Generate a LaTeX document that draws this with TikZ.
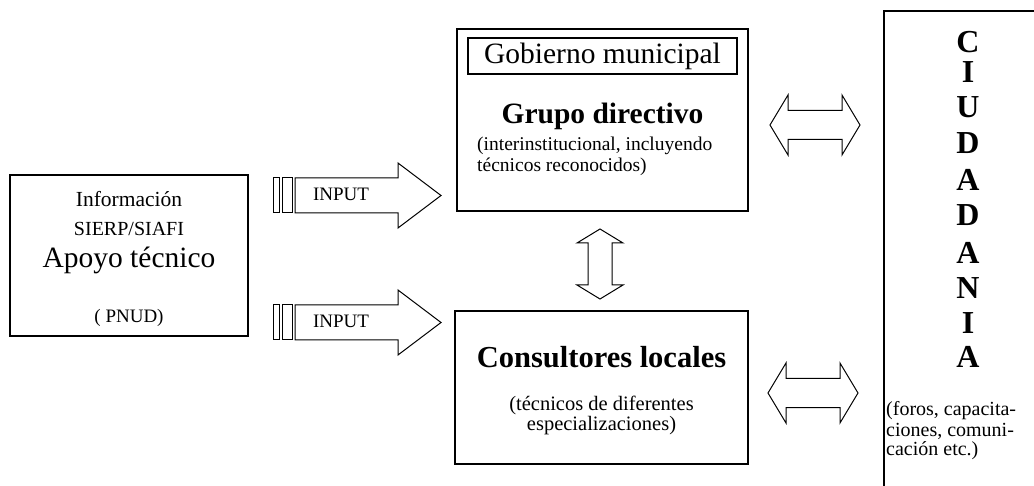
\documentclass[tikz,border=0pt]{standalone}
\usepackage{fontspec}
\setmainfont{Liberation Serif}
\newcommand\fz[1]{\fontsize{#1pt}{#1pt}\selectfont}
\begin{document}
\begin{tikzpicture}[x=1pt,y=-1pt,
  box/.style={draw, line width=1.2pt, inner sep=0pt},
  blk/.style={draw, line width=1pt, fill=white, line join=miter},
  lbl/.style={inner sep=0pt},
]
\useasboundingbox (0,0) rectangle (1034,486);

% ---------- boxes ----------
\node[box, minimum width=238pt, minimum height=161pt] (info) at (129,255.5) {};
\node[box, minimum width=291pt, minimum height=182pt] (grupo) at (602.5,120) {};
\node[box, minimum width=269pt, minimum height=36pt] (gob) at (602.5,56) {};
\node[box, minimum width=293pt, minimum height=153pt] (cons) at (601.5,387.5) {};
\coordinate (ciA) at (884,486);
\coordinate (ciB) at (884,11);
\coordinate (ciC) at (1034,11);
\draw[line width=1.2pt] (ciA) -- (ciB) -- (ciC);

% ---------- left box texts ----------
\node[lbl, font=\fz{21.5}] (inf1) at (129,199) {Información};
\node[lbl, font=\fz{20}] (inf2) at (129,229) {SIERP/SIAFI};
\node[lbl, font=\fz{29.5}] (inf3) at (129,260) {Apoyo técnico};
\node[lbl, font=\fz{19}] (inf4) at (129,318) {( PNUD)};

% ---------- input arrows ----------
\foreach \yc/\nm in {195.5/up, 322.5/lo}{
  \begin{scope}[yshift=-\yc pt]
    \draw[blk] (273,-17.5) rectangle (279,17.5);
    \draw[blk] (282,-17.5) rectangle (292,17.5);
    \draw[blk] (295,-17.5) -- (398,-17.5) -- (398,-32.5) -- (441,0)
               -- (398,32.5) -- (398,17.5) -- (295,17.5) -- cycle;
    \node[lbl, font=\fz{19}] (in\nm) at (341,-1) {INPUT};
  \end{scope}
}

% ---------- top box texts ----------
\node[lbl, font=\fz{29.5}] (gobt) at (gob) {Gobierno municipal};
\node[lbl, font=\bfseries\fz{29.5}] (gd) at (602.5,116) {Grupo directivo};
\node[lbl, font=\fz{19.5}, anchor=west] (gd1) at (477,146) {(interinstitucional, incluyendo};
\node[lbl, font=\fz{19.5}, anchor=west] (gd2) at (477,167) {técnicos reconocidos)};

% ---------- bottom box texts ----------
\node[lbl, font=\bfseries\fz{30.5}] (cl) at (601.5,357) {Consultores locales};
\node[lbl, font=\fz{20.5}] (cl1) at (601.5,405) {(técnicos de diferentes};
\node[lbl, font=\fz{20.5}] (cl2) at (601.5,426) {especializaciones)};

% ---------- vertical double arrow ----------
\draw[blk] (600,229) -- (623,243) -- (612,243) -- (612,285) -- (623,285)
  -- (600,299) -- (577,285) -- (588,285) -- (588,243) -- (577,243) -- cycle;

% ---------- horizontal double arrows ----------
\foreach \yc/\xo in {125/0, 393/-2}{
  \begin{scope}[yshift=-\yc pt, xshift=\xo pt]
    \draw[blk] (770,0) -- (788,-30) -- (788,-14.5) -- (842,-14.5) -- (842,-30)
      -- (860,0) -- (842,30) -- (842,14.5) -- (788,14.5) -- (788,30) -- cycle;
  \end{scope}
}

% ---------- CIUDADANIA ----------
\foreach \ch/\yy [count=\i] in {C/42, I/72, U/107, D/143, A/180, D/215, A/253, N/288, I/323, A/357}{
  \node[lbl, font=\bfseries\fz{32}] (ci\i) at (968,\yy) {\ch};
}
\node[lbl, font=\fz{20}, anchor=west] (fo1) at (886,411) {(foros, capacita-};
\node[lbl, font=\fz{20}, anchor=west] (fo2) at (886,431) {ciones, comuni-};
\node[lbl, font=\fz{20}, anchor=west] (fo3) at (886,451) {cación etc.)};
\end{tikzpicture}
\end{document}
